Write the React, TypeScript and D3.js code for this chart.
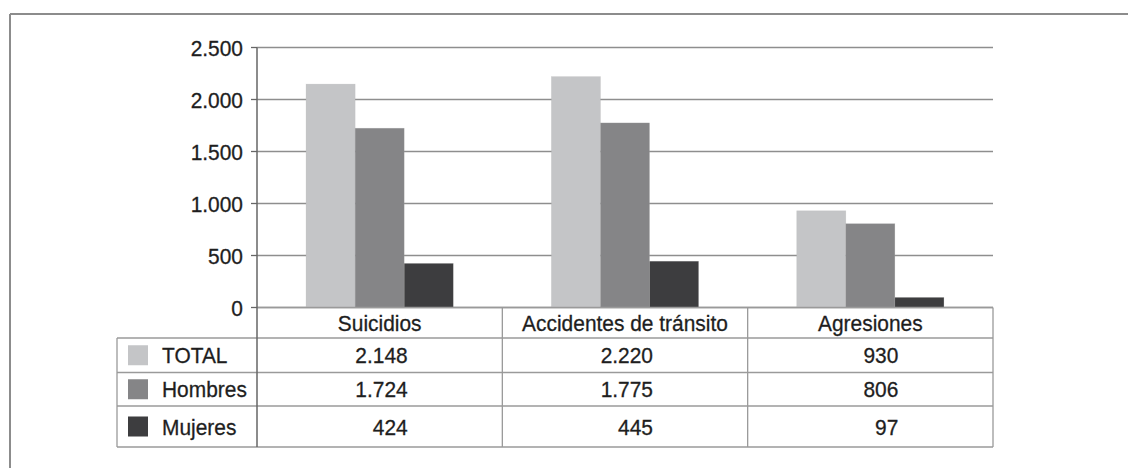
import React from "react";
import * as d3 from "d3";

const categories = ["Suicidios", "Accidentes de tránsito", "Agresiones"];
const seriesNames = ["TOTAL", "Hombres", "Mujeres"];
const totalValues = [2148, 2220, 930];
const hombresValues = [1724, 1775, 806];
const mujeresValues = [424, 445, 97];
const yTicks = [0, 500, 1000, 1500, 2000, 2500];
const seriesColors = ["#c4c5c7", "#858587", "#3d3d3f"];

const seriesValues = [totalValues, hombresValues, mujeresValues];

const W = 1128;
const H = 468;
const FONT = "'Liberation Sans', Arial, sans-serif";
const FS = 22.5;
const SX = 0.93;

const locale = d3.formatLocale({ decimal: ",", thousands: ".", grouping: [3], currency: ["", ""] });
const fmt = locale.format(",d");

function Label(props: { x: number; y: number; anchor?: string; children: React.ReactNode }) {
  const { x, y, anchor = "start", children } = props;
  return (
    <g transform={`translate(${x},${y}) scale(${SX},1)`}>
      <text
        x={0}
        y={0}
        dy="0.36em"
        textAnchor={anchor}
        fontSize={FS}
        fill="#1e1e1e"
        stroke="#1e1e1e"
        strokeWidth={0.3}
      >
        {children}
      </text>
    </g>
  );
}

export default function App() {
  const plotLeft = 257;
  const plotRight = 993;
  const y = d3.scaleLinear().domain([0, 2500]).range([307.5, 47.5]);
  const x = d3.scaleBand<string>().domain(categories).range([plotLeft, plotRight]).padding(0);
  const inner = d3
    .scaleBand<string>()
    .domain(seriesNames)
    .range([0, x.bandwidth()])
    .paddingInner(0)
    .paddingOuter(1);

  const tableLeft = 117;
  const headerTop = y(0);
  const rowLines = [338, 372.5, 406, 447];
  const tableBottom = rowLines[rowLines.length - 1];
  const gridColor = "#8e8e8e";
  const lineColor = "#9a9a9a";

  return (
    <svg
      width={W}
      height={H}
      style={{ position: "absolute", left: 0, top: 0, background: "#fff" }}
      fontFamily={FONT}
    >
      <rect x={0} y={0} width={W} height={H} fill="#fff" />
      {/* outer frame */}
      <line x1={10} x2={W} y1={14} y2={14} stroke="#8c8c8c" strokeWidth={2} />
      <line x1={10} x2={10} y1={14} y2={H} stroke="#8c8c8c" strokeWidth={2} />

      {/* gridlines */}
      {yTicks.map((t) => (
        <line key={"g" + t} x1={plotLeft} x2={plotRight} y1={y(t)} y2={y(t)} stroke={gridColor} strokeWidth={1.5} />
      ))}

      {/* bars */}
      {categories.map((c, ci) => (
        <g key={c}>
          {seriesNames.map((s, si) => {
            const v = seriesValues[si][ci];
            return (
              <rect
                key={s}
                x={(x(c) as number) + (inner(s) as number)}
                y={y(v)}
                width={inner.bandwidth()}
                height={y(0) - y(v)}
                fill={seriesColors[si]}
                stroke="#b0b0b0"
                strokeOpacity={0.35}
                strokeWidth={0.6}
              />
            );
          })}
        </g>
      ))}

      {/* ticks and labels */}
      {yTicks.map((t) => (
        <g key={"t" + t}>
          <line x1={251} x2={plotLeft} y1={y(t)} y2={y(t)} stroke="#666" strokeWidth={1.3} />
          <Label x={243} y={y(t)} anchor="end">
            {fmt(t)}
          </Label>
        </g>
      ))}

      {/* table lines */}
      {rowLines.map((ry) => (
        <line key={"r" + ry} x1={tableLeft} x2={plotRight} y1={ry} y2={ry} stroke={lineColor} strokeWidth={1.3} />
      ))}
      <line x1={plotLeft} x2={plotRight} y1={headerTop} y2={headerTop} stroke={lineColor} strokeWidth={1.3} />
      <line x1={tableLeft} x2={tableLeft} y1={rowLines[0]} y2={tableBottom} stroke={lineColor} strokeWidth={1.3} />
      {categories.map((c, ci) =>
        ci > 0 ? (
          <line key={"v" + c} x1={x(c)} x2={x(c)} y1={headerTop} y2={tableBottom} stroke={lineColor} strokeWidth={1.3} />
        ) : null
      )}
      <line x1={plotRight} x2={plotRight} y1={headerTop} y2={tableBottom} stroke={lineColor} strokeWidth={1.3} />

      {/* y axis line */}
      <line x1={plotLeft} x2={plotLeft} y1={y(2500)} y2={tableBottom} stroke="#666" strokeWidth={1.5} />

      {/* header */}
      {categories.map((c) => (
        <Label key={"h" + c} x={(x(c) as number) + x.bandwidth() / 2} y={(headerTop + rowLines[0]) / 2} anchor="middle">
          {c}
        </Label>
      ))}

      {/* legend rows and values */}
      {seriesNames.map((s, si) => {
        const top = rowLines[si];
        const bottom = rowLines[si + 1];
        const cy = (top + bottom) / 2;
        return (
          <g key={"row" + s}>
            <rect x={128} y={cy - 10} width={20} height={20} fill={seriesColors[si]} />
            <Label x={162} y={cy}>
              {s}
            </Label>
            {categories.map((c, ci) => (
              <Label key={c} x={(x(c) as number) + x.bandwidth() / 2 + 28} y={cy} anchor="end">
                {fmt(seriesValues[si][ci])}
              </Label>
            ))}
          </g>
        );
      })}
    </svg>
  );
}
